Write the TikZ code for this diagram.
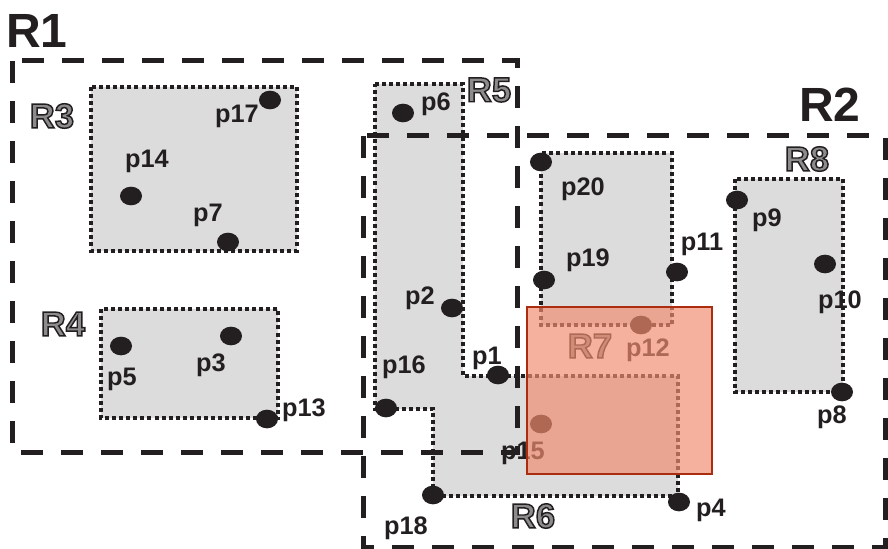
\documentclass[tikz,border=0pt]{standalone}
\usepackage{fontspec}
\setmainfont{Liberation Sans}
\usetikzlibrary{shapes.geometric}
\definecolor{ink}{RGB}{35,31,32}
\definecolor{boxgray}{RGB}{220,220,220}
\definecolor{lblgray}{RGB}{140,140,140}
\definecolor{rsev}{RGB}{240,140,110}
\definecolor{rsevline}{RGB}{170,45,15}
\newcommand{\rtxt}[1]{\textcolor{lblgray}{\special{pdf:literal direct 0.137 0.122 0.125 RG 2 Tr 1.1 w}#1\special{pdf:literal direct 0 Tr}}}
\begin{document}
\begin{tikzpicture}[x=0.75pt,y=-0.75pt,
  bigbox/.style={draw=ink, line width=3.75pt, dash pattern=on 16.5pt off 13.5pt},
  subfill/.style={fill=boxgray},
  subline/.style={draw=ink, line width=3.1pt, dash pattern=on 3pt off 2.3pt},
  dot/.style={ellipse, fill=ink, minimum width=16.5pt, minimum height=14pt, inner sep=0pt},
  plbl/.style={font=\fontsize{19}{19}\selectfont\bfseries, text=ink, inner sep=0pt},
  rlbl/.style={font=\fontsize{26}{26}\selectfont\bfseries, inner sep=0pt},
  biglbl/.style={font=\fontsize{36}{36}\selectfont\bfseries, text=ink, inner sep=0pt}]
\useasboundingbox (0,0) rectangle (888,549);
% gray sub-rectangles
\fill[subfill] (91,87) rectangle (297,251);
\fill[subfill] (101,309) rectangle (278,418);
\fill[subfill] (375,84) rectangle (463,409);
\fill[subfill] (433,376) rectangle (678,496);
\fill[subfill] (541,153) rectangle (672,325);
\fill[subfill] (735,179) rectangle (843,392);
% dotted borders
\draw[subline] (91,87) rectangle (297,251);
\draw[subline] (101,309) rectangle (278,418);
\draw[subline] (375,84) -- (463,84) -- (463,376) -- (678,376) -- (678,496) -- (433,496) -- (433,409) -- (375,409) -- cycle;
\draw[subline] (541,153) rectangle (672,325);
\draw[subline] (735,179) rectangle (843,392);
% dashed big regions
\draw[bigbox] (12,61) rectangle (517,452);
\draw[bigbox] (363,136) rectangle (885,547);
% region labels
\node[biglbl] (R1) at (37,31) {R1};
\node[biglbl] (R2) at (830,105) {R2};
\node[rlbl] (R3) at (52,116) {\rtxt{R3}};
\node[rlbl] (R4) at (63,324) {\rtxt{R4}};
\node[rlbl] (R5) at (489,90) {\rtxt{R5}};
\node[rlbl] (R6) at (533,516) {\rtxt{R6}};
\node[rlbl] (R7) at (590,346) {\rtxt{R7}};
\node[rlbl] (R8) at (807,159) {\rtxt{R8}};
% points
\node[dot] (p17) at (270,100) {};
\node[dot] (p14) at (131,196) {};
\node[dot] (p7) at (228,242) {};
\node[dot] (p5) at (121,346) {};
\node[dot] (p3) at (231,336) {};
\node[dot] (p13) at (267,419) {};
\node[dot] (p6) at (403,113) {};
\node[dot] (p2) at (452,308) {};
\node[dot] (p16) at (386,408) {};
\node[dot] (p1) at (498,375) {};
\node[dot] (p18) at (433,495) {};
\node[dot] (p4) at (679,502) {};
\node[dot] (p15) at (541,424) {};
\node[dot] (p12) at (641,325) {};
\node[dot] (p20) at (541,162) {};
\node[dot] (p19) at (544,280) {};
\node[dot] (p11) at (677,272) {};
\node[dot] (p9) at (737,200) {};
\node[dot] (p10) at (825,264) {};
\node[dot] (p8) at (842,392) {};
% point labels
\node[plbl] (l17) at (237,116) {p17};
\node[plbl] (l14) at (147,161) {p14};
\node[plbl] (l7) at (208,215) {p7};
\node[plbl] (l5) at (122,379) {p5};
\node[plbl] (l3) at (211,365) {p3};
\node[plbl] (l13) at (304,410) {p13};
\node[plbl] (l6) at (436,104) {p6};
\node[plbl] (l2) at (420,298) {p2};
\node[plbl] (l16) at (404,367) {p16};
\node[plbl] (l1) at (487,358) {p1};
\node[plbl] (l18) at (406,528) {p18};
\node[plbl] (l4) at (711,510) {p4};
\node[plbl] (l15) at (523,453) {p15};
\node[plbl] (l12) at (648,350) {p12};
\node[plbl] (l20) at (583,189) {p20};
\node[plbl] (l19) at (588,260) {p19};
\node[plbl] (l11) at (702,244) {p11};
\node[plbl] (l9) at (767,220) {p9};
\node[plbl] (l10) at (840,302) {p10};
\node[plbl] (l8) at (832,417) {p8};
% translucent R7 on top
\draw[draw=rsevline, line width=1.5pt, fill=rsev, fill opacity=0.68] (527,307) rectangle (712,474);
\end{tikzpicture}
\end{document}
